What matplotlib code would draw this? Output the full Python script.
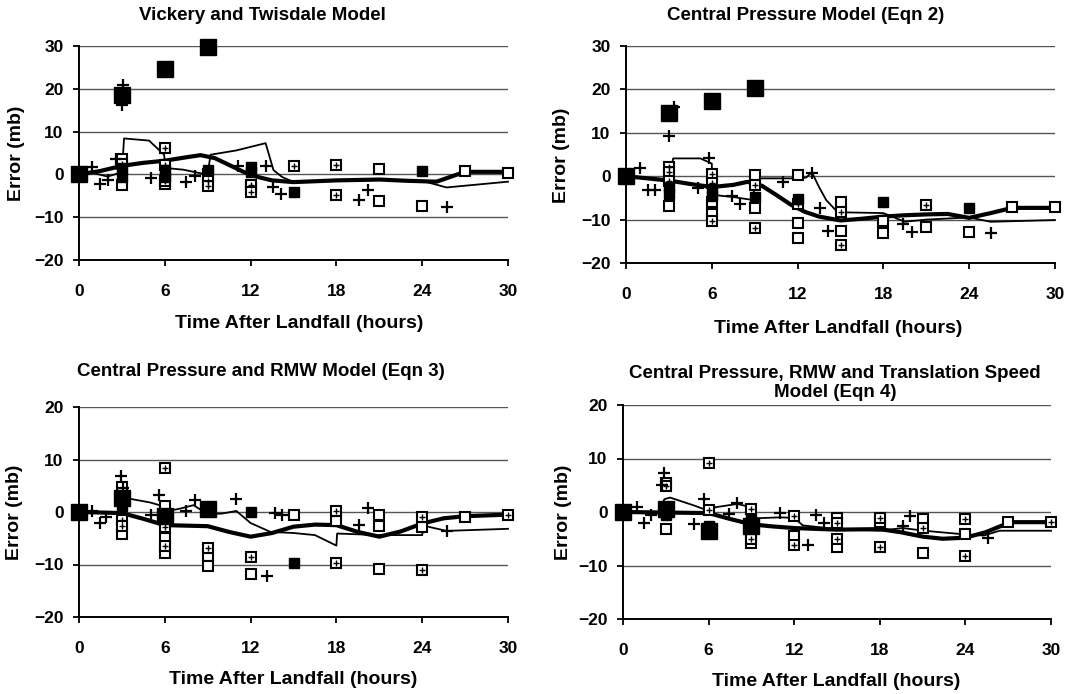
import matplotlib
matplotlib.use('Agg')
import matplotlib.pyplot as plt

plt.rcParams['font.family'] = ['Liberation Sans', 'DejaVu Sans']
plt.rcParams['font.weight'] = 'bold'

W, H = 1070, 694

titles = ["Vickery and Twisdale Model",
          "Central Pressure Model (Eqn 2)",
          "Central Pressure and RMW Model (Eqn 3)",
          "Central Pressure, RMW and Translation Speed\nModel (Eqn 4)"]
x_label = "Time After Landfall (hours)"
y_label = "Error (mb)"
x_ticks = [0, 6, 12, 18, 24, 30]

# ---------------- Panel 1: Vickery and Twisdale ----------------
p1_big_x = [0, 3, 6, 9]
p1_big_y = [0, 18.6, 24.6, 29.8]
p1_fill_x = [3, 3, 6, 6, 9, 12, 12, 15, 24]
p1_fill_y = [1.5, -0.5, 1.0, -0.5, 1.0, 1.8, 0.5, -4.0, 0.9]
p1_open_x = [3, 3, 6, 12, 21, 21, 24, 27, 30]
p1_open_y = [3.5, -2.5, -2.3, -3.0, 1.3, -6.3, -7.3, 0.7, 0.4]
p1_hatch_x = [3, 6, 6, 6, 9, 9, 9, 12, 12, 15, 18, 18]
p1_hatch_y = [2.5, 6.2, 2.2, -1.5, 0.0, -1.5, -2.8, -2.5, -4.0, 2.0, 2.2, -4.7]
p1_plus_x = [0.9, 1.45, 2.0, 2.6, 3.05, 3.0, 5.0, 7.5, 8.1, 11.1, 13.1, 13.6, 14.1, 19.6, 20.2, 25.7]
p1_plus_y = [1.8, -2.3, -1.4, 3.5, 20.8, 16.3, -0.9, -1.7, -0.4, 1.9, 1.9, -2.9, -4.5, -5.9, -3.7, -7.6]
p1_thin_x = [0, 1, 2, 3, 3.15, 4.9, 5.95, 6.05, 7.3, 8.6, 9.0, 9.2, 11, 13.05, 13.6, 14.2, 15, 18, 21, 24, 25.7, 30]
p1_thin_y = [0, 0.3, -0.5, 0.5, 8.4, 7.9, 4.6, 1.5, 1.1, 0.2, 0.2, 4.6, 5.6, 7.3, 1.0, -0.6, -1.8, -1.5, -1.3, -1.5, -3.05, -1.7]
p1_thick_x = [0, 1.5, 3, 4.5, 6, 7.5, 8.5, 9.5, 10.5, 11.5, 12.5, 13.5, 15, 18, 21, 23, 25, 27, 30]
p1_thick_y = [0, 0.8, 2.0, 2.7, 3.2, 4.0, 4.5, 3.8, 2.2, 0.6, -0.6, -1.4, -1.8, -1.4, -1.2, -1.5, -1.7, 0.6, 0.6]

# ---------------- Panel 2: Central Pressure (Eqn 2) ----------------
p2_big_x = [0, 3, 6, 9]
p2_big_y = [0, 14.6, 17.3, 20.4]
p2_fill_x = [3, 3, 6, 6, 9, 12, 18, 24]
p2_fill_y = [-2.5, -4.0, -3.0, -4.5, -4.7, -5.3, -6.0, -7.3]
p2_open_x = [3, 6, 6, 9, 9, 12, 12, 12, 15, 15, 18, 18, 21, 24, 27, 30]
p2_open_y = [-6.8, -5.9, -8.8, 0.2, -7.4, 0.2, -10.8, -14.3, -5.9, -12.6, -10.4, -13.0, -11.6, -12.9, -7.1, -7.1]
p2_hatch_x = [3, 3, 3, 6, 6, 6, 9, 9, 12, 15, 15, 21]
p2_hatch_y = [2.2, 1.0, -1.0, 0.5, -1.5, -10.3, -2.1, -12.0, -6.5, -8.3, -15.8, -6.6]
p2_plus_x = [1.0, 1.55, 2.0, 3.35, 3.0, 5.0, 5.8, 7.4, 8.0, 11.0, 13.0, 13.6, 14.1, 19.4, 20.0, 25.5]
p2_plus_y = [1.8, -3.2, -3.2, 16.0, 9.2, -2.7, 4.2, -4.5, -6.4, -1.3, 0.8, -7.3, -12.6, -10.9, -12.8, -13.2]
p2_thin_x = [0, 3, 3.3, 5.2, 6.0, 6.05, 7.5, 8.9, 9.0, 12, 12.6, 13.0, 13.5, 14, 14.8, 18, 19.5, 21, 24, 25.5, 30]
p2_thin_y = [0, -0.8, 4.1, 4.1, 2.9, -4.3, -4.8, -5.5, -0.5, -0.5, -0.3, 0.9, -2.5, -5.5, -8.3, -8.5, -10.5, -10.0, -9.5, -10.5, -10.1]
p2_thick_x = [0, 1.5, 3, 4.5, 6, 7.5, 8.5, 9.5, 10.5, 11.5, 12.5, 13.5, 15, 16.5, 18, 19.5, 21, 22.5, 24, 25.5, 27, 28.5, 30]
p2_thick_y = [0, -0.5, -1.0, -1.8, -2.5, -2.0, -1.3, -2.2, -4.3, -6.5, -8.2, -9.3, -10.2, -9.8, -9.3, -9.0, -8.8, -8.7, -9.6, -8.5, -7.3, -7.3, -7.3]

# ---------------- Panel 3: Central Pressure and RMW (Eqn 3) ----------------
p3_big_x = [0, 3, 6, 9]
p3_big_y = [0, 2.6, -0.7, 0.5]
p3_fill_x = [3, 12, 15]
p3_fill_y = [1.2, 0.0, -9.7]
p3_open_x = [3, 3, 6, 6, 6, 9, 9, 12, 15, 18, 21, 21, 21, 24, 27]
p3_open_y = [4.8, -4.2, 1.1, -4.9, -7.9, -8.4, -10.2, -11.8, -0.6, -1.8, -0.6, -2.7, -10.8, -2.8, -0.9]
p3_hatch_x = [3, 3, 6, 6, 6, 9, 12, 18, 18, 24, 24, 30]
p3_hatch_y = [-1.5, -2.6, 8.35, -2.9, -6.4, -6.9, -8.6, 0.1, -9.7, -0.9, -11.1, -0.6]
p3_plus_x = [0.9, 1.47, 1.9, 2.95, 3.1, 5.0, 5.6, 7.5, 8.1, 11.0, 13.15, 13.7, 14.2, 19.6, 20.2, 25.7]
p3_plus_y = [0.2, -2.1, -1.0, 6.8, 4.5, -0.6, 3.3, 0.1, 2.3, 2.5, -12.2, -0.2, -0.6, -2.4, 0.8, -3.7]
p3_thin_x = [0, 2.9, 3.0, 5, 6.0, 6.2, 7, 8, 9.0, 10, 11, 12, 13.4, 15, 16.5, 18, 18.05, 21, 24, 24.1, 25.7, 30]
p3_thin_y = [0, 0, 2.8, 1.8, 1.0, 0.2, 0.6, 1.3, -0.4, -0.3, 0.2, -2.1, -3.8, -4.0, -4.4, -6.4, -4.1, -4.4, -4.4, -2.6, -3.6, -3.2]
p3_thick_x = [0, 3, 4.5, 6, 9, 10.5, 12, 13.5, 15, 16.5, 18, 19.5, 21, 22.5, 24, 25.5, 27, 30]
p3_thick_y = [0, -0.2, -1.3, -2.5, -2.7, -3.8, -4.7, -4.0, -2.8, -2.4, -2.5, -3.8, -4.7, -3.7, -2.2, -1.2, -0.8, -0.5]

# ---------------- Panel 4: Central Pressure, RMW and Translation Speed (Eqn 4) ----------------
p4_big_x = [0, 3, 6, 9]
p4_big_y = [0, 0.6, -3.6, -2.6]
p4_fill_x = [3, 6, 9]
p4_fill_y = [-0.6, -2.6, -1.3]
p4_open_x = [3, 3, 9, 12, 15, 15, 18, 21, 21, 24, 27]
p4_open_y = [5.5, -3.1, -5.8, -4.5, -1.1, -6.5, -1.9, -1.3, -7.7, -4.2, -1.9]
p4_hatch_x = [3, 6, 6, 9, 9, 9, 12, 12, 15, 15, 18, 18, 21, 24, 24, 30]
p4_hatch_y = [4.8, 9.1, 0.4, 0.6, -3.0, -5.0, -0.8, -6.1, -2.0, -5.1, -1.1, -6.6, -3.0, -1.3, -8.3, -1.9]
p4_plus_x = [1.0, 1.45, 1.97, 2.9, 2.7, 5.0, 5.7, 7.4, 8.0, 11.0, 13.0, 13.5, 14.1, 19.6, 20.1, 25.6]
p4_plus_y = [1.0, -2.0, -0.5, 7.3, 5.0, -2.3, 2.5, -0.4, 1.6, -0.1, -6.1, -0.5, -2.0, -2.6, -0.75, -4.8]
p4_thin_x = [0, 2.5, 2.9, 3.3, 5.0, 6.0, 6.5, 8.0, 9.0, 9.05, 11, 12, 12.6, 15, 18, 19.6, 21.1, 24, 25.3, 26.4, 30]
p4_thin_y = [0, 0, 2.4, 2.7, 1.2, 0.2, 0.9, 1.5, 0.9, -1.2, -1.0, -1.1, -2.5, -3.2, -3.5, -3.0, -3.5, -4.2, -4.4, -3.5, -3.5]
p4_thick_x = [0, 3, 6, 7.5, 9, 10.5, 12, 15, 18, 19.5, 21, 22.4, 24, 25.4, 26.6, 27.2, 30]
p4_thick_y = [0, -0.1, -0.2, -1.3, -2.3, -2.7, -3.0, -3.3, -3.2, -3.8, -4.6, -5.0, -4.8, -3.8, -2.5, -1.9, -1.9]

panels = [
    dict(box=(79, 508, 46, 260), ylim=(-20, 30),
         big=(p1_big_x, p1_big_y), fill=(p1_fill_x, p1_fill_y), open=(p1_open_x, p1_open_y),
         hatch=(p1_hatch_x, p1_hatch_y), plus=(p1_plus_x, p1_plus_y),
         thin=(p1_thin_x, p1_thin_y), thick=(p1_thick_x, p1_thick_y),
         title_xy=(262, 15), xlab_xy=(299, 324), ylab_xy=(17, 153)),
    dict(box=(626, 1055, 46, 263), ylim=(-20, 30),
         big=(p2_big_x, p2_big_y), fill=(p2_fill_x, p2_fill_y), open=(p2_open_x, p2_open_y),
         hatch=(p2_hatch_x, p2_hatch_y), plus=(p2_plus_x, p2_plus_y),
         thin=(p2_thin_x, p2_thin_y), thick=(p2_thick_x, p2_thick_y),
         title_xy=(806, 15), xlab_xy=(838, 328), ylab_xy=(562, 155)),
    dict(box=(79, 508, 407, 617), ylim=(-20, 20),
         big=(p3_big_x, p3_big_y), fill=(p3_fill_x, p3_fill_y), open=(p3_open_x, p3_open_y),
         hatch=(p3_hatch_x, p3_hatch_y), plus=(p3_plus_x, p3_plus_y),
         thin=(p3_thin_x, p3_thin_y), thick=(p3_thick_x, p3_thick_y),
         title_xy=(261, 372), xlab_xy=(293, 679), ylab_xy=(15, 512)),
    dict(box=(623, 1051, 405, 619), ylim=(-20, 20),
         big=(p4_big_x, p4_big_y), fill=(p4_fill_x, p4_fill_y), open=(p4_open_x, p4_open_y),
         hatch=(p4_hatch_x, p4_hatch_y), plus=(p4_plus_x, p4_plus_y),
         thin=(p4_thin_x, p4_thin_y), thick=(p4_thick_x, p4_thick_y),
         title_xy=(835, 383), xlab_xy=(836, 682), ylab_xy=(564, 512)),
]

fig = plt.figure(figsize=(W / 100, H / 100), dpi=100)

FS_TICK = 12.5
FS_LAB = 14
FS_TITLE = 13.5

for i, p in enumerate(panels):
    l, r, t, b = p['box']
    ax = fig.add_axes([l / W, 1 - b / H, (r - l) / W, (b - t) / H])
    ax.set_xlim(0, 30)
    ax.set_ylim(*p['ylim'])
    ax.set_xticks(x_ticks)
    ax.set_yticks(range(p['ylim'][0], p['ylim'][1] + 1, 10))
    ax.yaxis.grid(True, color='#555555', lw=1.0, zorder=0)
    ax.set_axisbelow(True)
    for s in ['top', 'right']:
        ax.spines[s].set_visible(False)
    for s in ['left', 'bottom']:
        ax.spines[s].set_linewidth(1.4)
        ax.spines[s].set_color('black')
    ax.tick_params(direction='out', length=4, width=1.3, labelsize=FS_TICK)
    ax.tick_params(axis='x', pad=13)
    ax.tick_params(axis='y', pad=7)
    for lab in ax.get_xticklabels() + ax.get_yticklabels():
        lab.set_fontweight('bold')

    ax.plot(*p['thin'], color='black', lw=1.3, zorder=2, clip_on=False)
    ax.plot(*p['thick'], color='black', lw=3.0, zorder=3, clip_on=False, solid_joinstyle='round')
    ax.plot(*p['open'], ls='none', marker='s', ms=6.5, mfc='white', mec='black', mew=1.5, zorder=4, clip_on=False)
    ax.plot(*p['hatch'], ls='none', marker='s', ms=6.5, mfc='white', mec='black', mew=1.5, zorder=4, clip_on=False)
    ax.plot(*p['hatch'], ls='none', marker='+', ms=4.5, mec='black', mew=1.0, zorder=4, clip_on=False)
    ax.plot(*p['fill'], ls='none', marker='s', ms=7.5, mfc='black', mec='black', zorder=4, clip_on=False)
    ax.plot(*p['plus'], ls='none', marker='+', ms=8, mec='black', mew=1.6, zorder=5, clip_on=False)
    ax.plot(*p['big'], ls='none', marker='s', ms=11.5, mfc='black', mec='black', zorder=6, clip_on=False)

    tx, ty = p['title_xy']
    fig.text(tx / W, 1 - ty / H, titles[i], ha='center', va='center', fontsize=FS_TITLE,
             fontweight='bold', linespacing=1.2)
    xx, xy = p['xlab_xy']
    fig.text(xx / W, 1 - xy / H, x_label, ha='center', va='center', fontsize=FS_LAB, fontweight='bold')
    yx, yy = p['ylab_xy']
    fig.text(yx / W, 1 - yy / H, y_label, ha='center', va='center', rotation=90,
             fontsize=FS_LAB, fontweight='bold')

fig.savefig('out.png', dpi=100)
